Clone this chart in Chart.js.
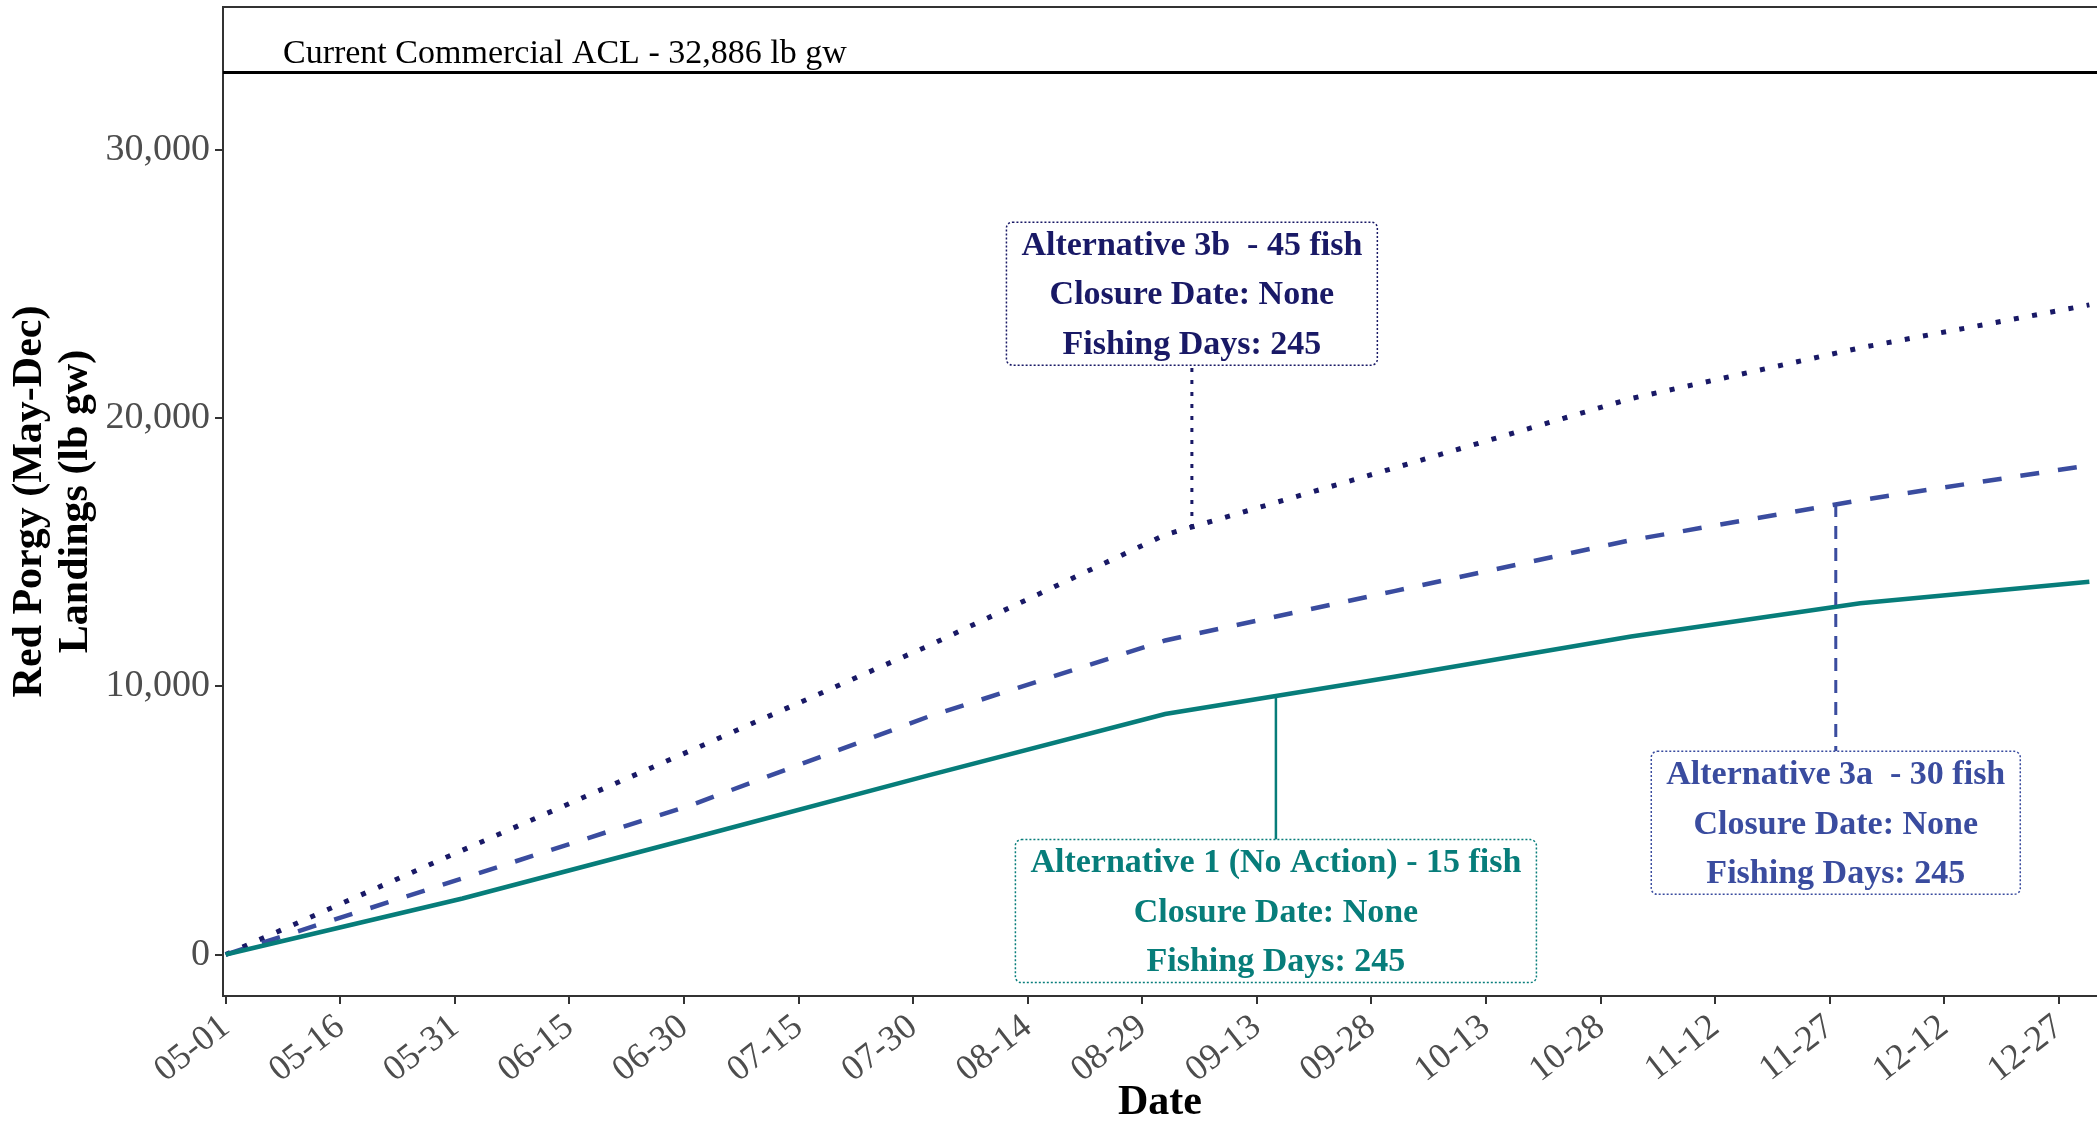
<!DOCTYPE html>
<html>
<head>
<meta charset="utf-8">
<script src="https://cdn.jsdelivr.net/npm/chart.js@4.4.1/dist/chart.umd.min.js"></script>
<style>
  html, body { margin: 0; padding: 0; background: #fff; overflow: hidden; }
  #wrap { width: 2097px; height: 1124px; }
</style>
</head>
<body>
<div id="wrap"><canvas id="myChart"></canvas></div>
<script>
// day index from May 1 (month boundaries)
const days = [0, 31, 61, 92, 123, 153, 184, 214, 244];
const alt1 = [0, 2090, 4335, 6680, 8970, 10360, 11860, 13100, 13900];
const alt3a = [0, 2840, 5580, 8870, 11710, 13550, 15450, 16940, 18240];
const alt3b = [0, 3890, 7620, 11510, 15650, 18140, 20730, 22620, 24220];

const tickDays = [0, 15, 30, 45, 60, 75, 90, 105, 120, 135, 150, 165, 180, 195, 210, 225, 240];
const tickLabels = ['05-01', '05-16', '05-31', '06-15', '06-30', '07-15', '07-30', '08-14', '08-29',
  '09-13', '09-28', '10-13', '10-28', '11-12', '11-27', '12-12', '12-27'];
const yTicks = [0, 10000, 20000, 30000];
const aclValue = 32886;
const aclText = 'Current Commercial ACL - 32,886 lb gw';

const SERIF = "'Liberation Serif', 'Times New Roman', serif";
const TEAL = '#077D7A';
const BLUE = '#3A4C9F';
const NAVY = '#191966';

// label boxes: anchor on the curve, box centre (both in data units)
const notes = [
  { lines: ['Alternative 3b  - 45 fish', 'Closure Date: None', 'Fishing Days: 245'],
    color: NAVY, at: [126.5, 15900], box: [126.5, 24640], dash: [4, 8], width: 3 },
  { lines: ['Alternative 1 (No Action) - 15 fish', 'Closure Date: None', 'Fishing Days: 245'],
    color: TEAL, at: [137.5, 9660], box: [137.5, 1620], dash: [], width: 2.5 },
  { lines: ['Alternative 3a  - 30 fish', 'Closure Date: None', 'Fishing Days: 245'],
    color: BLUE, at: [210.8, 16800], box: [210.8, 4910], dash: [13, 9], width: 3 }
];

const toXY = arr => days.map((d, i) => ({ x: d, y: arr[i] }));

const labelPlugin = {
  id: 'labelBoxes',
  afterDatasetsDraw(chart) {
    const { ctx, chartArea: ca, scales: { x, y } } = chart;
    ctx.save();
    // top border of panel
    ctx.strokeStyle = '#333';
    ctx.lineWidth = 2;
    ctx.beginPath();
    ctx.moveTo(ca.left, ca.top);
    ctx.lineTo(ca.right, ca.top);
    ctx.stroke();

    // ACL text
    ctx.fillStyle = '#000';
    ctx.font = '34px ' + SERIF;
    ctx.textAlign = 'left';
    ctx.textBaseline = 'middle';
    ctx.fillText(aclText, x.getPixelForValue(7.5), y.getPixelForValue(33580));

    ctx.font = 'bold 34px ' + SERIF;
    const lineH = 49.5, padX = 15, padY = 22;
    notes.forEach(n => {
      const cx = x.getPixelForValue(n.box[0]);
      const cy = y.getPixelForValue(n.box[1]);
      const w = Math.max(...n.lines.map(l => ctx.measureText(l).width)) + 2 * padX;
      const h = (n.lines.length - 1) * lineH + 2 * padY;
      const top = cy - h / 2, left = cx - w / 2;
      // leader
      const ax = x.getPixelForValue(n.at[0]);
      const ay = y.getPixelForValue(n.at[1]);
      ctx.strokeStyle = n.color;
      ctx.lineWidth = n.width;
      ctx.setLineDash(n.dash);
      ctx.beginPath();
      ctx.moveTo(ax, ay);
      ctx.lineTo(ax, ay < top ? top : top + h);
      ctx.stroke();
      // box
      ctx.setLineDash([2, 2]);
      ctx.lineWidth = 1.5;
      ctx.fillStyle = '#fff';
      ctx.beginPath();
      ctx.roundRect(left, top, w, h, 6);
      ctx.fill();
      ctx.stroke();
      ctx.setLineDash([]);
      ctx.fillStyle = n.color;
      ctx.textAlign = 'center';
      n.lines.forEach((l, i) => ctx.fillText(l, cx, top + padY + i * lineH + 2));
    });
    ctx.restore();
  }
};

const ctx = document.getElementById('myChart');

new Chart(ctx, {
  type: 'line',
  data: {
    datasets: [
      { label: 'ACL', data: [{ x: -1, y: aclValue }, { x: 246, y: aclValue }],
        borderColor: '#000', borderWidth: 3, pointRadius: 0 },
      { label: 'Alternative 1', data: toXY(alt1), borderColor: TEAL, borderWidth: 4.5, pointRadius: 0 },
      { label: 'Alternative 3a', data: toXY(alt3a), borderColor: BLUE, borderWidth: 4.5, pointRadius: 0,
        borderDash: [19, 19] },
      { label: 'Alternative 3b', data: toXY(alt3b), borderColor: NAVY, borderWidth: 5, pointRadius: 0,
        borderDash: [5, 13.5] }
    ]
  },
  options: {
    responsive: true,
    maintainAspectRatio: false,
    animation: false,
    layout: { padding: 0 },
    plugins: { legend: { display: false }, tooltip: { enabled: false } },
    scales: {
      x: {
        type: 'linear',
        min: -0.35,
        max: 245,
        afterBuildTicks: s => { s.ticks = tickDays.map(v => ({ value: v })); },
        afterFit: s => { s.height = 128; s.paddingLeft = 0; s.paddingRight = 0; },
        ticks: {
          autoSkip: false, minRotation: 38, maxRotation: 38,
          color: '#4d4d4d', font: { family: SERIF, size: 36 }, padding: 2,
          callback: (v, i) => tickLabels[i]
        },
        grid: { drawOnChartArea: false, drawTicks: true, tickLength: 8, color: '#333', lineWidth: 2 },
        border: { display: true, color: '#333', width: 2 },
        title: { display: true, text: 'Date', color: '#000',
          font: { family: SERIF, size: 42, weight: 'bold', lineHeight: 1 }, padding: { top: 0, bottom: 0 } }
      },
      y: {
        min: -1545,
        max: 35326,
        afterBuildTicks: s => { s.ticks = yTicks.map(v => ({ value: v })); },
        afterFit: s => { s.width = 223; s.paddingTop = 7; s.paddingBottom = 0; },
        ticks: {
          color: '#4d4d4d', font: { family: SERIF, size: 38 }, padding: 5,
          callback: v => v.toLocaleString('en-US')
        },
        grid: { drawOnChartArea: false, drawTicks: true, tickLength: 8, color: '#333', lineWidth: 2 },
        border: { display: true, color: '#333', width: 2 },
        title: { display: true, text: ['Red Porgy (May-Dec)', 'Landings (lb gw)'], color: '#000',
          font: { family: SERIF, size: 42, weight: 'bold', lineHeight: 1.1 }, padding: { top: 7, bottom: 0 } }
      }
    }
  },
  plugins: [labelPlugin]
});
</script>
</body>
</html>
